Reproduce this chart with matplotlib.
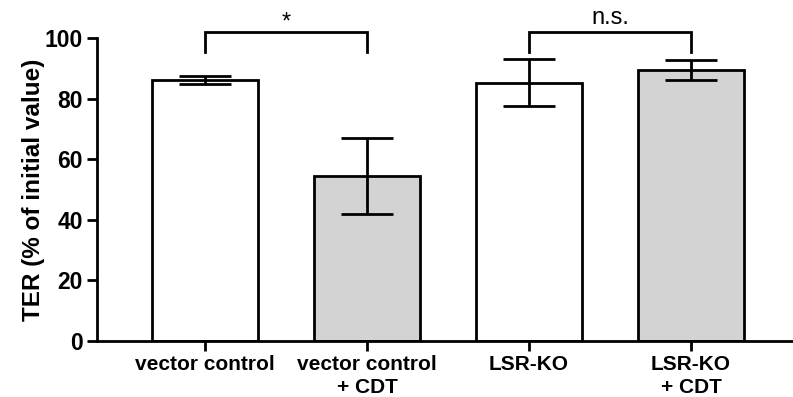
import matplotlib.pyplot as plt
import numpy as np

plt.rcParams['font.family'] = ['Liberation Sans', 'DejaVu Sans']

groups = ["vector control", "vector control\n+ CDT", "LSR-KO", "LSR-KO\n+ CDT"]
means = [86.2, 54.5, 85.3, 89.4]
errors = [1.3, 12.5, 7.7, 3.3]
colors = ["white", "#d3d3d3", "white", "#d3d3d3"]
comparisons = [(0, 1, "*"), (2, 3, "n.s.")]

fig = plt.figure(figsize=(7.93, 3.97), dpi=100)
ax = fig.add_axes([0.1223, 0.141, 0.8777, 0.763])

x = np.arange(len(groups))
ax.bar(x, means, width=0.66, color=colors, edgecolor="black", linewidth=2, zorder=2)
ax.errorbar(x, means, yerr=errors, fmt="none", ecolor="black", elinewidth=2,
            capsize=19, capthick=2, zorder=3)

# significance brackets
bracket_top = 101.9
for a, b, label in comparisons:
    ax.plot([a, a, b, b], [95.5, bracket_top, bracket_top, 95.5], color="black", lw=2,
            clip_on=False, solid_joinstyle="miter")
    # the asterisk glyph sits high, so nudge it down
    offset = -0.5 if label == "*" else 1.0
    ax.text((a + b) / 2, bracket_top + offset, label, ha="center", va="bottom",
            fontsize=17, clip_on=False)

ax.set_xlim(-0.667, 3.63)
ax.set_ylim(0, 100)
ax.set_yticks(np.arange(0, 101, 20))
ax.set_xticks(x)
ax.set_xticklabels(groups, fontsize=15, fontweight="bold", linespacing=1.25)
for t in ax.get_yticklabels():
    t.set_fontsize(16.5)
    t.set_fontweight("bold")
ax.set_ylabel("TER (% of initial value)", fontsize=17.5, fontweight="bold", labelpad=0)

for side in ["top", "right"]:
    ax.spines[side].set_visible(False)
for side in ["left", "bottom"]:
    ax.spines[side].set_linewidth(2)
ax.tick_params(axis="both", direction="out", length=7, width=2, pad=3)

fig.savefig("out.png", dpi=100)
